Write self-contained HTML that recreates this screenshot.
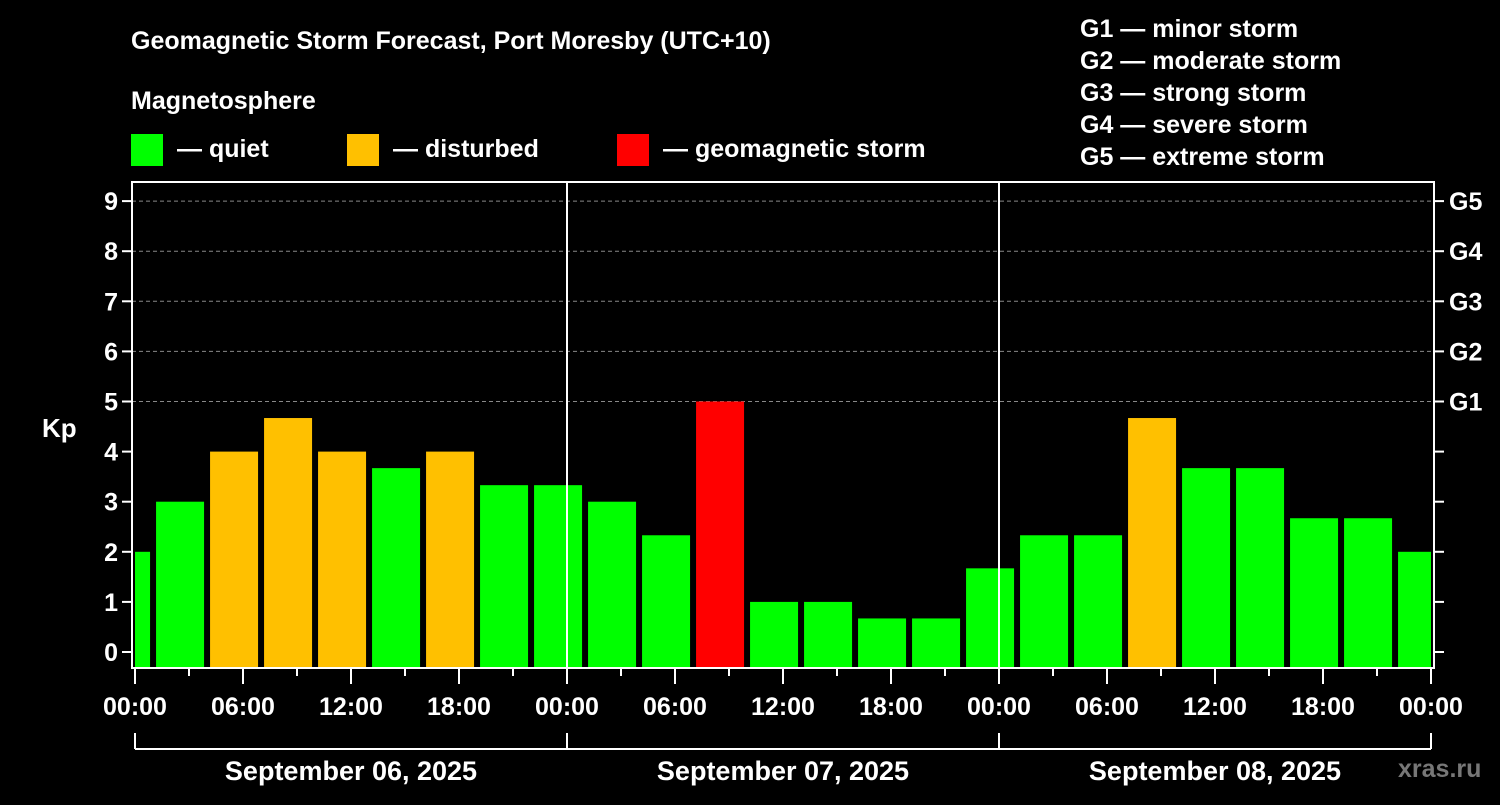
<!DOCTYPE html>
<html><head><meta charset="utf-8"><style>
body{margin:0;background:#000;width:1500px;height:800px;overflow:hidden}
svg text{font-family:"Liberation Sans",Arial,sans-serif;font-weight:bold;fill:#fff}
</style></head><body>
<svg width="1500" height="800" id="c">
<rect width="1500" height="800" fill="#000"/>
<text x="131" y="49" font-size="25">Geomagnetic Storm Forecast, Port Moresby (UTC+10)</text>
<text x="131" y="109" font-size="25">Magnetosphere</text>
<g><rect x="131" y="134" width="32" height="32" fill="#00ff00"/><text x="177" y="157" font-size="25">— quiet</text></g>
<g><rect x="347" y="134" width="32" height="32" fill="#ffc000"/><text x="393" y="157" font-size="25">— disturbed</text></g>
<g><rect x="617" y="134" width="32" height="32" fill="#ff0000"/><text x="663" y="157" font-size="25">— geomagnetic storm</text></g>
<g font-size="25">
<text x="1080" y="37">G1 — minor storm</text><text x="1080" y="69">G2 — moderate storm</text><text x="1080" y="101">G3 — strong storm</text><text x="1080" y="133">G4 — severe storm</text><text x="1080" y="165">G5 — extreme storm</text></g>
<text x="42" y="437" font-size="26">Kp</text>
<text x="1398" y="777" font-size="25" fill="#888" style="fill:#777">xras.ru</text>
<g id="plot"></g>
</svg>
<script>
const values=[2,3,4,4.67,4,3.67,4,3.33,3.33,3,2.33,5,1,1,0.67,0.67,1.67,2.33,2.33,4.67,3.67,3.67,2.67,2.67,2];
const yTicks=[0,1,2,3,4,5,6,7,8,9];
const gLabels=["G1","G2","G3","G4","G5"];
const xLabels=["00:00","06:00","12:00","18:00","00:00","06:00","12:00","18:00","00:00","06:00","12:00","18:00","00:00"];
const dates=["September 06, 2025","September 07, 2025","September 08, 2025"];
const NS="http://www.w3.org/2000/svg",g=document.getElementById('plot');
const L=132,R=1434,T=182,B=668,X0=135,HP=18;
const y=v=>652-v*50.1, x=h=>X0+h*HP;
function el(t,a,p){const e=document.createElementNS(NS,t);for(const k in a)e.setAttribute(k,a[k]);(p||g).appendChild(e);return e;}
const clip=el('clipPath',{id:'cp'});el('rect',{x:X0,y:T,width:x(72)-X0,height:B-T},clip);
// gridlines
yTicks.forEach(v=>{if(v>=5){const l=el('line',{x1:L,x2:R,y1:y(v),y2:y(v),stroke:'#888','stroke-dasharray':'4,3','stroke-width':1});

}});
// bars
const bg=el('g',{'clip-path':'url(#cp)'});
values.forEach((v,i)=>{const c=i*3-0.5;const col=v>=5?'#ff0000':(v>=4?'#ffc000':'#00ff00');
const r=el('rect',{x:x(c-1.33),width:48,y:y(v),height:B-y(v),fill:col},bg);

});
// day lines
[24,48].forEach(h=>{const l=el('line',{x1:x(h),x2:x(h),y1:T,y2:B,stroke:'#fff','stroke-width':2});

});
// frame
const f=el('rect',{x:L,y:T,width:R-L,height:B-T,fill:'none',stroke:'#fff','stroke-width':2});


// y ticks
yTicks.forEach(v=>{el('line',{x1:L-10,x2:L,y1:y(v),y2:y(v),stroke:'#fff','stroke-width':2});
el('line',{x1:R,x2:R+10,y1:y(v),y2:y(v),stroke:'#fff','stroke-width':2});
const t=el('text',{x:L-14,y:y(v)+9,'font-size':25,'text-anchor':'end'});t.textContent=v;

});
gLabels.forEach((s,i)=>{const t=el('text',{x:1449,y:y(5+i)+9,'font-size':25});t.textContent=s;

});
// x ticks
for(let h=0;h<=72;h+=3){el('line',{x1:x(h),x2:x(h),y1:B,y2:B+(h%6?8:16),stroke:'#fff','stroke-width':2});}
xLabels.forEach((s,i)=>{const t=el('text',{x:x(i*6),y:715,'font-size':25,'text-anchor':'middle'});t.textContent=s;

});
// date bracket
el('line',{x1:x(0),x2:x(72),y1:749,y2:749,stroke:'#fff','stroke-width':2});
[0,24,48,72].forEach(h=>el('line',{x1:x(h),x2:x(h),y1:733,y2:749,stroke:'#fff','stroke-width':2}));
dates.forEach((s,i)=>{const t=el('text',{x:x(i*24+12),y:780,'font-size':27,'text-anchor':'middle'});t.textContent=s;

});
</script>
</body></html>
